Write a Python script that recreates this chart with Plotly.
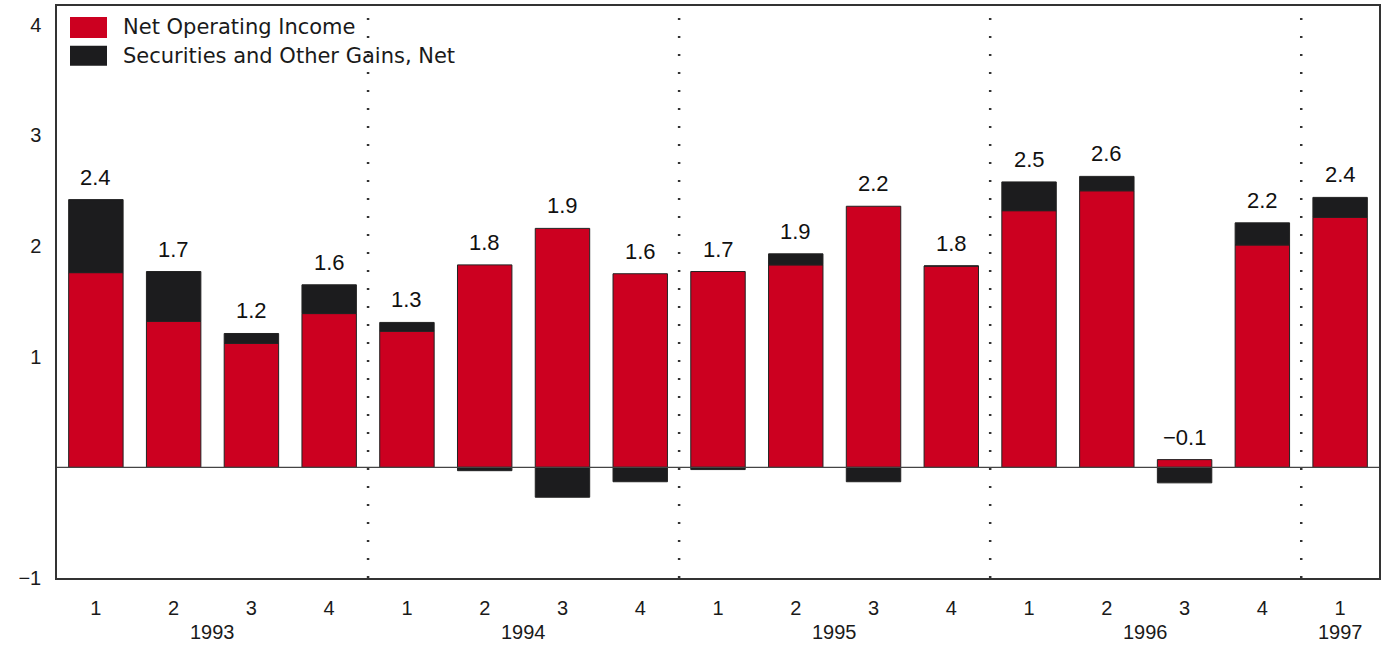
import plotly.graph_objects as go

# quarters 1993Q1 .. 1997Q1
quarters = ["1", "2", "3", "4", "1", "2", "3", "4", "1", "2", "3", "4",
            "1", "2", "3", "4", "1"]
years = ["1993", "1994", "1995", "1996", "1997"]
year_pos = [1.5, 5.5, 9.5, 13.5, 16]
net_operating = [1.76, 1.32, 1.12, 1.39, 1.23, 1.83, 2.16, 1.75, 1.77,
                 1.83, 2.36, 1.82, 2.32, 2.50, 0.07, 2.01, 2.26]
securities = [0.66, 0.45, 0.09, 0.26, 0.08, -0.03, -0.27, -0.13, -0.02,
              0.10, -0.13, 0.0, 0.26, 0.13, -0.14, 0.20, 0.18]
totals = ["2.4", "1.7", "1.2", "1.6", "1.3", "1.8", "1.9", "1.6", "1.7",
          "1.9", "2.2", "1.8", "2.5", "2.6", "\u22120.1", "2.2", "2.4"]

RED = "#cc0020"
BLACK = "#1c1c1e"
FONT = "Liberation Sans, Arial, sans-serif"
LEGEND_FONT = "DejaVu Sans, sans-serif"

x = list(range(len(quarters)))

fig = go.Figure()
fig.add_bar(x=x, y=net_operating, marker_color=RED, width=0.7,
            marker_line=dict(color="#222", width=1), name="Net Operating Income")
fig.add_bar(x=x, y=securities, marker_color=BLACK, width=0.7,
            marker_line=dict(color="#222", width=1),
            name="Securities and Other Gains, Net")

shapes = []
# year separators
for sx in [3.5, 7.5, 11.5, 15.5]:
    shapes.append(dict(type="line", xref="x", yref="paper", x0=sx, x1=sx,
                       y0=0, y1=1, line=dict(color="#333", width=2.5, dash="2px,16px")))
# zero line
shapes.append(dict(type="line", xref="paper", yref="y", x0=0, x1=1, y0=0, y1=0,
                   line=dict(color="#444", width=1.2), layer="above"))


# manual legend (sizes in paper coords)
def px_x(p):
    return (p - 57) / 1322


def px_y(p):
    return (578 - p) / 574


annotations = []
# value labels above the positive stack
tops = [n + max(s, 0) for n, s in zip(net_operating, securities)]
for xi, top, label in zip(x, tops, totals):
    annotations.append(dict(x=xi, y=top, text=label, showarrow=False,
                            yanchor="bottom", yshift=8,
                            font=dict(size=22, color="#111", family=FONT)))

for (y0, y1, color, label) in [(15, 36, RED, "Net Operating Income"),
                               (44, 64, BLACK, "Securities and Other Gains, Net")]:
    shapes.append(dict(type="rect", xref="paper", yref="paper",
                       x0=px_x(70), x1=px_x(107), y0=px_y(y1), y1=px_y(y0),
                       fillcolor=color, line=dict(width=0)))
    annotations.append(dict(xref="paper", yref="paper", x=px_x(121),
                            y=px_y((y0 + y1) / 2), text=label, showarrow=False,
                            xanchor="left", yanchor="middle",
                            font=dict(size=21, color="#1a1a1a", family=LEGEND_FONT)))

for yr, pos in zip(years, year_pos):
    annotations.append(dict(xref="x", yref="paper", x=pos, y=px_y(632),
                            text=yr, showarrow=False, yanchor="middle",
                            font=dict(size=20, color="#1a1a1a", family=FONT)))

fig.update_layout(
    width=1387, height=650,
    barmode="relative",
    showlegend=False,
    plot_bgcolor="white", paper_bgcolor="white",
    margin=dict(l=57, r=8, t=4, b=72),
    shapes=shapes, annotations=annotations,
    font=dict(family=FONT, size=20, color="#1a1a1a"),
)
fig.update_xaxes(range=[-0.5, 16.5], tickvals=x, ticktext=quarters,
                 showgrid=False, zeroline=False, showline=True, linecolor="#333",
                 linewidth=1.5, mirror=True, ticks="", ticklabelstandoff=11)
fig.update_yaxes(range=[-1, 4.17], tickvals=[-1, 1, 2, 3, 4],
                 ticktext=["\u22121", "1", "2", "3", "4"],
                 showgrid=False, zeroline=False, showline=True, linecolor="#333",
                 linewidth=1.5, mirror=True, ticks="", ticklabelstandoff=10)

fig.write_html("out.html", config={"displayModeBar": False},
               post_script="document.body.style.margin='0';")
